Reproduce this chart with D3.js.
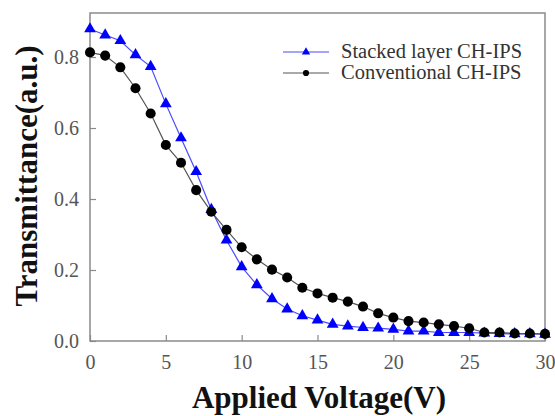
<!DOCTYPE html>
<html>
<head>
<meta charset="utf-8">
<script src="https://cdn.jsdelivr.net/npm/d3@7"></script>
<style>
  body { margin: 0; background: #fff; }
</style>
</head>
<body>
<svg id="chart" width="555" height="416"></svg>
<script>
// applied voltage (V)
const voltage = d3.range(0, 31)
// stacked layer CH-IPS
const stacked = [0.879, 0.862, 0.846, 0.806, 0.773, 0.668, 0.572, 0.477, 0.37, 0.284,
  0.209, 0.158, 0.119, 0.09, 0.071, 0.059, 0.047, 0.042, 0.038, 0.036,
  0.033, 0.028, 0.028, 0.024, 0.024, 0.024, 0.022, 0.021, 0.020, 0.020, 0.019]
// conventional CH-IPS
const conventional = [0.813, 0.804, 0.771, 0.712, 0.641, 0.552, 0.502, 0.425, 0.364, 0.313,
  0.264, 0.230, 0.201, 0.179, 0.150, 0.134, 0.122, 0.111, 0.097, 0.078,
  0.066, 0.056, 0.052, 0.047, 0.042, 0.036, 0.024, 0.024, 0.021, 0.021, 0.020]
const x_ticks = [0, 5, 10, 15, 20, 25, 30]
const y_ticks = [0.0, 0.2, 0.4, 0.6, 0.8]
const legend_names = ['Stacked layer CH-IPS', 'Conventional CH-IPS']

const serif = '"Liberation Serif", "DejaVu Serif", serif'
const plot_left = 90, plot_right = 545, plot_top = 13, plot_bottom = 341
const svg = d3.select('#chart')

const x = d3.scaleLinear().domain([0, 30]).range([plot_left, plot_right])
const y = d3.scaleLinear().domain([0, 0.924]).range([plot_bottom, plot_top])

// frame
svg.append('rect')
  .attr('x', plot_left).attr('y', plot_top)
  .attr('width', plot_right - plot_left).attr('height', plot_bottom - plot_top)
  .attr('fill', 'none').attr('stroke', '#8a8a8a').attr('stroke-width', 1.5)

// axes, ticks pointing inward
let x_axis = svg.append('g')
  .attr('transform', `translate(0,${plot_bottom})`)
  .call(d3.axisBottom(x).tickValues(x_ticks).tickSize(-6).tickPadding(14).tickFormat(d3.format('d')))
  .attr('font-family', serif)
x_axis.select('.domain').remove()
x_axis.selectAll('line').attr('stroke', '#8a8a8a').attr('stroke-width', 1.2)
x_axis.selectAll('text').attr('font-size', 20).attr('fill', '#555')

let y_axis = svg.append('g')
  .attr('transform', `translate(${plot_left},0)`)
  .call(d3.axisLeft(y).tickValues(y_ticks).tickSize(-6).tickPadding(11).tickFormat(d3.format('.1f')))
  .attr('font-family', serif)
y_axis.select('.domain').remove()
y_axis.selectAll('line').attr('stroke', '#8a8a8a').attr('stroke-width', 1.2)
y_axis.selectAll('text').attr('font-size', 20).attr('fill', '#555')

// series
const series = [
  { name: legend_names[0], values: stacked, line: '#4a4aff', mark: '#0000ff', shape: d3.symbolTriangle },
  { name: legend_names[1], values: conventional, line: '#555', mark: '#000', shape: d3.symbolCircle }
]

const line = d3.line().x((d, i) => x(voltage[i])).y(d => y(d))

series.forEach(s => {
  svg.append('path')
    .attr('d', line(s.values))
    .attr('fill', 'none').attr('stroke', s.line).attr('stroke-width', 1.2)
  svg.append('g').selectAll('path')
    .data(s.values)
    .join('path')
    .attr('transform', (d, i) => `translate(${x(voltage[i])},${y(d)})`)
    .attr('d', d3.symbol().type(s.shape).size(s.shape == d3.symbolCircle ? 80 : 60))
    .attr('fill', s.mark)
})

// legend
series.forEach((s, i) => {
  let ly = 52 + i * 21
  svg.append('line')
    .attr('x1', 283).attr('x2', 329).attr('y1', ly).attr('y2', ly)
    .attr('stroke', s.line).attr('stroke-width', 1.2)
  svg.append('path')
    .attr('transform', `translate(306,${ly})`)
    .attr('d', d3.symbol().type(s.shape).size(30))
    .attr('fill', s.mark)
  svg.append('text')
    .attr('x', 341).attr('y', ly + 6)
    .attr('font-family', serif)
    .attr('font-size', 20.5).attr('fill', '#333')
    .text(s.name)
})

// axis titles
svg.append('text')
  .attr('x', 319).attr('y', 408)
  .attr('text-anchor', 'middle')
  .attr('font-family', serif)
  .attr('font-size', 31).attr('font-weight', 'bold').attr('fill', '#111')
  .text('Applied Voltage(V)')

svg.append('text')
  .attr('transform', 'translate(37,176) rotate(-90)')
  .attr('text-anchor', 'middle')
  .attr('font-family', serif)
  .attr('font-size', 31).attr('font-weight', 'bold').attr('fill', '#111')
  .text('Transmittance(a.u.)')
</script>
</body>
</html>
